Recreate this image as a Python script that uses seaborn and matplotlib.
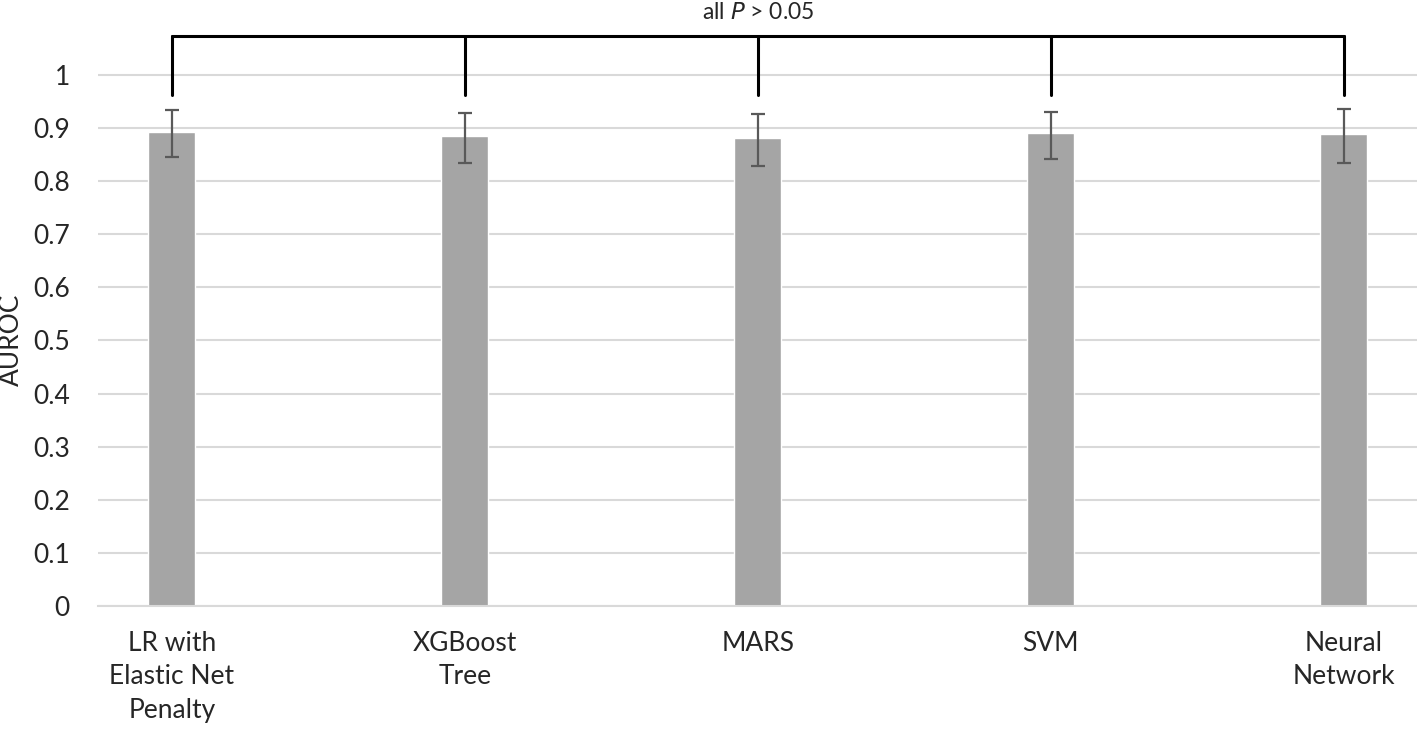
import numpy as np
import pandas as pd
import seaborn as sns
import matplotlib.pyplot as plt

# Values
models = ['LR with\nElastic Net\nPenalty', 'XGBoost\nTree', 'MARS', 'SVM', 'Neural\nNetwork']
auroc = [0.893, 0.885, 0.881, 0.891, 0.888]
ci_low = [0.846, 0.835, 0.828, 0.842, 0.835]
ci_high = [0.935, 0.928, 0.927, 0.930, 0.936]
yticks = [0, 0.1, 0.2, 0.3, 0.4, 0.5, 0.6, 0.7, 0.8, 0.9, 1]
ytick_labels = ['0', '0.1', '0.2', '0.3', '0.4', '0.5', '0.6', '0.7', '0.8', '0.9', '1']

df = pd.DataFrame({'model': models, 'auroc': auroc})

sns.set_style('white')
plt.rcParams['font.family'] = ['Lato', 'DejaVu Sans']

fig = plt.figure(figsize=(14.17, 7.30), dpi=100)
ax = fig.add_axes([0.069, 0.170, 0.931, 0.800])

sns.barplot(data=df, x='model', y='auroc', color='#A5A5A5', width=0.16,
            saturation=1, ax=ax)

# asymmetric error bars
x = np.arange(len(models))
err = [np.array(auroc) - np.array(ci_low), np.array(ci_high) - np.array(auroc)]
ax.errorbar(x, auroc, yerr=err, fmt='none', ecolor='#595959', elinewidth=1.6,
            capsize=5, capthick=1.6, zorder=3)

# significance bracket
top = 1.073
leg = 0.962
ax.plot([x[0], x[-1]], [top, top], color='black', lw=2.2, clip_on=False)
for xi in x:
    ax.plot([xi, xi], [leg, top], color='black', lw=2.2, clip_on=False)
ax.text((x[0] + x[-1]) / 2, 1.118, r'all $\mathit{P}$ > 0.05', ha='center',
        va='center', fontsize=16.5)

ax.set_xlim(-0.253, 4.25)
ax.set_ylim(0, 1.1)
ax.set_yticks(yticks)
ax.set_yticklabels(ytick_labels, fontsize=19)
ax.tick_params(axis='x', labelsize=19, length=0, pad=18)
ax.tick_params(axis='y', length=0, pad=20)
for lbl in ax.get_xticklabels():
    lbl.set_linespacing(1.42)
ax.yaxis.grid(True, color='#D9D9D9', lw=1.5)
ax.set_axisbelow(True)
for s in ['top', 'right', 'left']:
    ax.spines[s].set_visible(False)
ax.spines['bottom'].set_color('#D9D9D9')
ax.spines['bottom'].set_linewidth(1.5)
ax.set_xlabel('')
ax.set_ylabel('AUROC', fontsize=19)
ax.yaxis.set_label_coords(-0.056, 0.455)

fig.savefig('out.png', dpi=100)
